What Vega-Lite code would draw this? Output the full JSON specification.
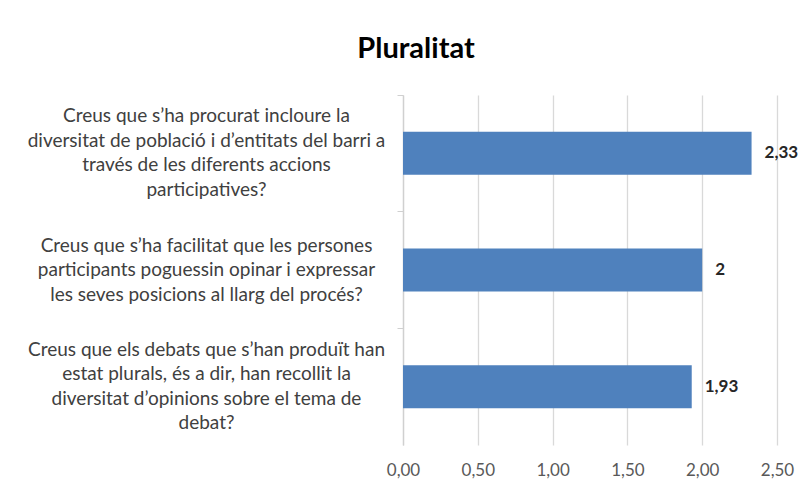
{
  "$schema": "https://vega.github.io/schema/vega-lite/v6.json",
  "width": 374,
  "height": 350,
  "autosize": {"type": "none"},
  "padding": {"left": 403, "top": 95, "right": 29, "bottom": 43},
  "background": "#ffffff",
  "config": {
    "view": {"stroke": null},
    "locale": {"number": {"decimal": ",", "thousands": ".", "grouping": [3], "currency": ["", " €"]}}
  },
  "title": {
    "text": "Pluralitat",
    "font": "Lato",
    "fontSize": 29,
    "fontWeight": "bold",
    "color": "#000000",
    "anchor": "middle",
    "frame": "group",
    "dx": -174,
    "offset": 31
  },
  "data": {
    "values": [
      {"q": "Creus que s’ha procurat incloure la|diversitat de població i d’entitats del barri a|través de les diferents accions|participatives?", "v": 2.33},
      {"q": "Creus que s’ha facilitat que les persones|participants poguessin opinar i expressar|les seves posicions al llarg del procés?", "v": 2},
      {"q": "Creus que els debats que s’han produït han|estat plurals, és a dir, han recollit la|diversitat d’opinions sobre el tema de|debat?", "v": 1.93}
    ]
  },
  "encoding": {
    "y": {
      "field": "q",
      "type": "nominal",
      "sort": null,
      "scale": {"paddingInner": 0, "paddingOuter": 0},
      "axis": {
        "title": null,
        "labelExpr": "split(datum.value, '|')",
        "labelAlign": "center",
        "labelBaseline": "middle",
        "labelOffset": {"condition": {"test": "length(split(datum.value, '|')) == 4", "value": -37}, "value": -24.5},
        "labelPadding": 191,
        "labelLimit": 0,
        "labelFont": "Lato",
        "labelFontSize": 19,
        "labelLineHeight": 24.5,
        "labelColor": "#404040",
        "tickSize": 6,
        "bandPosition": 0,
        "domainColor": "#d0d0d0",
        "tickColor": "#d0d0d0",
        "domainWidth": 1.3,
        "grid": false
      }
    },
    "x": {
      "field": "v",
      "type": "quantitative",
      "scale": {"domain": [0, 2.5], "nice": false},
      "axis": {
        "title": null,
        "values": [0, 0.5, 1, 1.5, 2, 2.5],
        "format": ".2f",
        "domain": false,
        "ticks": false,
        "grid": true,
        "gridColor": "#d9d9d9",
        "gridWidth": 1.3,
        "labelFlush": false,
        "labelFont": "Lato",
        "labelFontSize": 17,
        "labelColor": "#595959",
        "labelPadding": 17
      }
    }
  },
  "layer": [
    {
      "mark": {"type": "bar", "size": 43, "color": "#4F81BD"}
    },
    {
      "mark": {
        "type": "text",
        "align": "left",
        "baseline": "middle",
        "dx": 13,
        "font": "Lato",
        "fontSize": 17,
        "fontWeight": "bold",
        "color": "#262626"
      },
      "encoding": {
        "text": {"field": "v", "type": "quantitative", "format": "~g"}
      }
    }
  ]
}
